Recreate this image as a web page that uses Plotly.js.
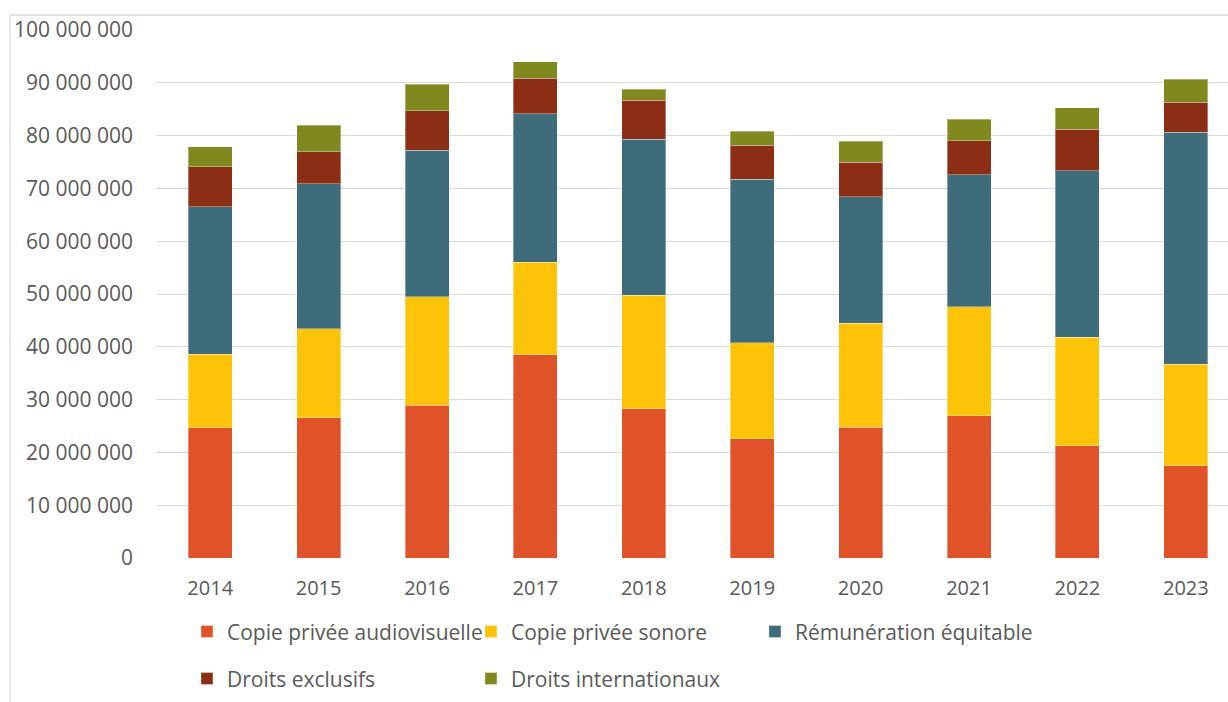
<!DOCTYPE html>
<html>
<head>
<meta charset="utf-8">
<script src="https://cdn.plot.ly/plotly-3.0.1.min.js"></script>
<style>
  html, body { margin: 0; padding: 0; background: #ffffff; }
  #chart { width: 1228px; height: 702px; }
</style>
</head>
<body>
<div id="chart"></div>
<script>
const years = ["2014", "2015", "2016", "2017", "2018", "2019", "2020", "2021", "2022", "2023"];
const copiePriveeAudiovisuelle = [24700000, 26600000, 28900000, 38500000, 28300000, 22600000, 24800000, 26900000, 21300000, 17500000];
const copiePriveeSonore       = [13900000, 16800000, 20600000, 17500000, 21500000, 18200000, 19700000, 20700000, 20500000, 19200000];
const remunerationEquitable   = [27900000, 27500000, 27700000, 28100000, 29500000, 30900000, 23900000, 25000000, 31500000, 43900000];
const droitsExclusifs         = [7600000, 6000000, 7500000, 6800000, 7400000, 6500000, 6600000, 6400000, 7900000, 5700000];
const droitsInternationaux    = [3800000, 5100000, 5000000, 3100000, 2100000, 2600000, 3900000, 4100000, 4100000, 4400000];

const seriesNames = ["Copie privée audiovisuelle", "Copie privée sonore", "Rémunération équitable", "Droits exclusifs", "Droits internationaux"];
const seriesValues = [copiePriveeAudiovisuelle, copiePriveeSonore, remunerationEquitable, droitsExclusifs, droitsInternationaux];
const colors = ["#E05328", "#FDC308", "#3E6C7A", "#8B2E15", "#7F891E"];
const legendRefs = ["legend", "legend", "legend", "legend2", "legend2"];

const textColor = "#595959";
const fontFamily = "'Open Sans', 'Noto Sans', sans-serif";

const traces = seriesNames.map((name, i) => ({
  type: "bar",
  name: name,
  x: years,
  y: seriesValues[i],
  marker: { color: colors[i], line: { color: "rgba(255,255,255,0.35)", width: 1 } },
  legend: legendRefs[i],
  hovertemplate: "%{x}<br>" + name + ": %{y:,d}<extra></extra>"
}));

const legendCommon = {
  orientation: "h",
  xref: "paper", yref: "paper",
  xanchor: "left", yanchor: "middle",
  entrywidth: 239, entrywidthmode: "pixels",
  traceorder: "normal",
  font: { family: fontFamily, size: 21, color: textColor },
  bgcolor: "rgba(0,0,0,0)",
  itemclick: false, itemdoubleclick: false
};

const layout = {
  width: 1228,
  height: 702,
  margin: { l: 156, r: 0, t: 30, b: 144, pad: 0 },
  paper_bgcolor: "#ffffff",
  plot_bgcolor: "#ffffff",
  barmode: "stack",
  bargap: 0.594,
  separators: ", ",
  font: { family: fontFamily, color: textColor },
  xaxis: {
    type: "category",
    range: [-0.5, 9.389],
    showgrid: false,
    showline: false,
    zeroline: false,
    ticks: "",
    ticklabelstandoff: 16,
    tickfont: { family: fontFamily, size: 20, color: textColor },
    fixedrange: true
  },
  yaxis: {
    range: [0, 100000000],
    dtick: 10000000,
    tick0: 0,
    tickformat: ",d",
    showgrid: true,
    gridcolor: "#d9d9d9",
    gridwidth: 1.3,
    zeroline: false,
    showline: false,
    ticks: "",
    ticklabelstandoff: 22,
    tickfont: { family: fontFamily, size: 21, color: textColor },
    fixedrange: true
  },
  legend: Object.assign({}, legendCommon, { x: 0.0289, y: -0.140 }),
  legend2: Object.assign({}, legendCommon, { x: 0.0289, y: -0.229 }),
  shapes: [
    {
      type: "rect", xref: "paper", yref: "paper",
      x0: -0.1362, x1: 1.02, y0: -0.30, y1: 1.0284,
      line: { color: "#d9d9d9", width: 1.3 },
      fillcolor: "rgba(0,0,0,0)",
      layer: "below"
    }
  ],
  showlegend: true
};

Plotly.newPlot("chart", traces, layout, { displayModeBar: false, staticPlot: false, responsive: false });
</script>
</body>
</html>
